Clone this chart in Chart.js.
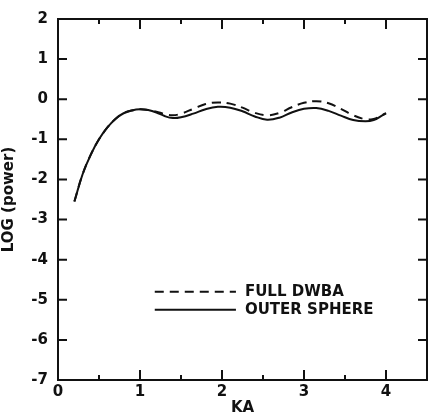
<!DOCTYPE html>
<html>
<head>
<meta charset="utf-8">
<script src="https://cdn.jsdelivr.net/npm/chart.js@4/dist/chart.umd.min.js"></script>
<style>
  html, body { margin: 0; padding: 0; background: #fff; }
  canvas { display: block; }
</style>
</head>
<body>
<canvas id="chart" width="428" height="420"></canvas>
<script>
// data
const ka = [0.2, 0.3, 0.4, 0.5, 0.6, 0.7, 0.8, 0.9, 1.0, 1.1, 1.2, 1.3, 1.4, 1.5, 1.65, 1.8, 1.95,
            2.1, 2.25, 2.4, 2.55, 2.7, 2.85, 3.0, 3.15, 3.3, 3.45, 3.6, 3.75, 3.85, 3.95, 4.0];
const fullDwba = [-2.55, -1.87, -1.38, -1.00, -0.71, -0.49, -0.35, -0.28, -0.25, -0.27, -0.31, -0.37,
                  -0.40, -0.36, -0.24, -0.12, -0.08, -0.11, -0.21, -0.34, -0.40, -0.34, -0.20, -0.09,
                  -0.05, -0.10, -0.24, -0.40, -0.50, -0.49, -0.40, -0.35];
const outerSphere = [-2.55, -1.87, -1.38, -1.00, -0.71, -0.49, -0.35, -0.28, -0.25, -0.27, -0.33, -0.42,
                     -0.47, -0.45, -0.36, -0.25, -0.19, -0.21, -0.30, -0.43, -0.51, -0.46, -0.33, -0.24,
                     -0.22, -0.29, -0.41, -0.52, -0.55, -0.52, -0.41, -0.35];
const xTicks = [0, 1, 2, 3, 4];
const xMinorTicks = [0.5, 1.5, 2.5, 3.5];
const yTicks = [2, 1, 0, -1, -2, -3, -4, -5, -6, -7];

const FONT = "'DejaVu Sans', sans-serif";
const INK = '#111';

const toPoints = ys => ys.map((y, i) => ({ x: ka[i], y }));

// frame, inward ticks and in-plot legend
const framePlugin = {
    id: 'frame',
    afterDatasetsDraw(chart) {
        const { ctx, chartArea: a, scales: { x, y } } = chart;
        ctx.save();
        ctx.strokeStyle = INK;
        ctx.lineWidth = 2;
        ctx.strokeRect(a.left, a.top, a.right - a.left, a.bottom - a.top);

        ctx.beginPath();
        yTicks.forEach(v => {
            const py = y.getPixelForValue(v);
            ctx.moveTo(a.left, py); ctx.lineTo(a.left + 9, py);
            ctx.moveTo(a.right, py); ctx.lineTo(a.right - 9, py);
        });
        xTicks.forEach(v => {
            const px = x.getPixelForValue(v);
            ctx.moveTo(px, a.bottom); ctx.lineTo(px, a.bottom - 10);
            ctx.moveTo(px, a.top); ctx.lineTo(px, a.top + 10);
        });
        xMinorTicks.forEach(v => {
            const px = x.getPixelForValue(v);
            ctx.moveTo(px, a.bottom); ctx.lineTo(px, a.bottom - 5);
            ctx.moveTo(px, a.top); ctx.lineTo(px, a.top + 5);
        });
        ctx.stroke();

        // legend
        const lx0 = x.getPixelForValue(1.18), lx1 = x.getPixelForValue(2.17);
        const rows = [y.getPixelForValue(-4.8), y.getPixelForValue(-5.25)];
        chart.data.datasets.forEach((ds, i) => {
            ctx.beginPath();
            ctx.lineWidth = 2;
            ctx.setLineDash(ds.borderDash || []);
            ctx.moveTo(lx0, rows[i]); ctx.lineTo(lx1, rows[i]);
            ctx.stroke();
            ctx.setLineDash([]);
            ctx.fillStyle = INK;
            ctx.font = 'bold 15px ' + FONT;
            ctx.textBaseline = 'middle';
            ctx.fillText(ds.label, lx1 + 9, rows[i]);
        });
        ctx.restore();
    }
};

new Chart(document.getElementById('chart'), {
    type: 'line',
    data: {
        datasets: [{
            label: 'FULL DWBA',
            data: toPoints(fullDwba),
            borderColor: INK,
            borderWidth: 2,
            borderDash: [9, 6],
            pointRadius: 0,
            tension: 0.4,
            fill: false
        }, {
            label: 'OUTER SPHERE',
            data: toPoints(outerSphere),
            borderColor: INK,
            borderWidth: 2,
            pointRadius: 0,
            tension: 0.4,
            fill: false
        }]
    },
    options: {
        responsive: false,
        animation: false,
        layout: { padding: { top: 14, right: 1, left: 0, bottom: 0 } },
        scales: {
            x: {
                type: 'linear',
                min: 0,
                max: 4.5,
                afterFit: s => { s.height = 40; },
                afterBuildTicks: s => { s.ticks = xTicks.map(v => ({ value: v })); },
                grid: { display: false, drawTicks: false },
                border: { display: false },
                ticks: { color: INK, font: { family: FONT, size: 15, weight: 'bold' }, padding: 3, maxRotation: 0 },
                title: { display: true, text: 'KA', color: INK, font: { family: FONT, size: 15, weight: 'bold' }, padding: { top: 0, bottom: 3 } }
            },
            y: {
                min: -7,
                max: 2,
                afterFit: s => { s.width = 58; },
                afterBuildTicks: s => { s.ticks = yTicks.map(v => ({ value: v })); },
                grid: { display: false, drawTicks: false },
                border: { display: false },
                ticks: { color: INK, font: { family: FONT, size: 15, weight: 'bold' }, padding: 10 },
                title: { display: true, text: 'LOG (power)', color: INK, font: { family: FONT, size: 15, weight: 'bold' }, padding: { top: 0, bottom: 8 } }
            }
        },
        plugins: {
            legend: { display: false },
            tooltip: { enabled: false }
        }
    },
    plugins: [framePlugin]
});
</script>
</body>
</html>
